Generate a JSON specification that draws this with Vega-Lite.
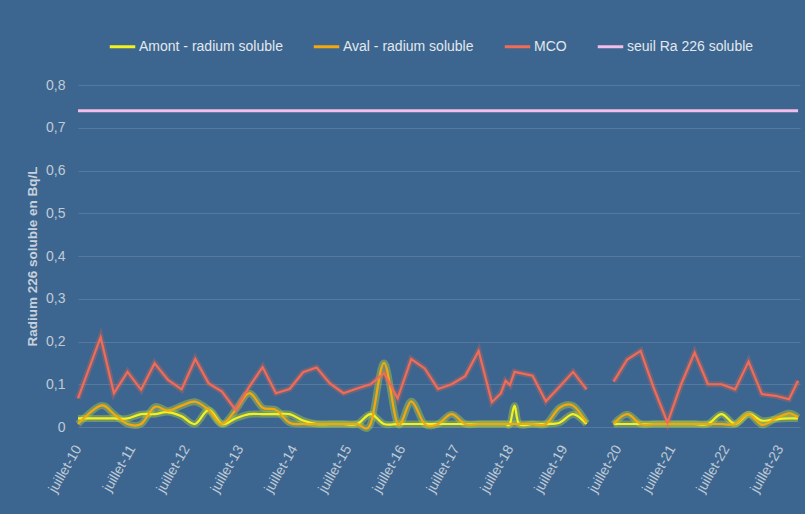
{
 "$schema": "https://vega.github.io/schema/vega-lite/v6.json",
 "width": 722,
 "height": 342,
 "autosize": {"type": "none"},
 "padding": {"left": 78, "top": 85, "right": 5, "bottom": 87},
 "background": "#3c668f",
 "config": {
  "font": "Liberation Sans",
  "view": {"stroke": null},
  "axis": {"labelColor": "#c0cad6", "labelFontSize": 14, "domain": false, "ticks": false}
 },
 "data": {"values": [
  {"d":"2010-07-01","s":"MCO","v":0.067},{"d":"2010-12-01","s":"MCO","v":0.21},{"d":"2011-03-01","s":"MCO","v":0.079},{"d":"2011-06-01","s":"MCO","v":0.129},
  {"d":"2011-09-01","s":"MCO","v":0.087},{"d":"2011-12-01","s":"MCO","v":0.149},{"d":"2012-03-01","s":"MCO","v":0.11},{"d":"2012-06-01","s":"MCO","v":0.088},
  {"d":"2012-09-01","s":"MCO","v":0.159},{"d":"2012-12-01","s":"MCO","v":0.102},{"d":"2013-03-01","s":"MCO","v":0.083},{"d":"2013-06-01","s":"MCO","v":0.04},
  {"d":"2013-09-01","s":"MCO","v":0.094},{"d":"2013-12-01","s":"MCO","v":0.14},{"d":"2014-03-01","s":"MCO","v":0.079},{"d":"2014-06-01","s":"MCO","v":0.089},
  {"d":"2014-09-01","s":"MCO","v":0.128},{"d":"2014-12-01","s":"MCO","v":0.139},{"d":"2015-03-01","s":"MCO","v":0.102},{"d":"2015-06-01","s":"MCO","v":0.079},
  {"d":"2015-09-01","s":"MCO","v":0.09},{"d":"2015-12-01","s":"MCO","v":0.1},{"d":"2016-03-01","s":"MCO","v":0.126},{"d":"2016-06-01","s":"MCO","v":0.067},
  {"d":"2016-09-01","s":"MCO","v":0.159},{"d":"2016-12-01","s":"MCO","v":0.137},{"d":"2017-03-01","s":"MCO","v":0.089},{"d":"2017-06-01","s":"MCO","v":0.1},
  {"d":"2017-09-01","s":"MCO","v":0.119},{"d":"2017-12-01","s":"MCO","v":0.178},{"d":"2018-03-01","s":"MCO","v":0.058},{"d":"2018-05-01","s":"MCO","v":0.079},
  {"d":"2018-06-01","s":"MCO","v":0.108},{"d":"2018-07-01","s":"MCO","v":0.098},{"d":"2018-08-01","s":"MCO","v":0.129},{"d":"2018-12-01","s":"MCO","v":0.12},
  {"d":"2019-03-01","s":"MCO","v":0.06},{"d":"2019-06-01","s":"MCO","v":0.094},{"d":"2019-09-01","s":"MCO","v":0.129},{"d":"2019-12-01","s":"MCO","v":0.088},
  {"d":"2020-03-01","s":"MCO","v":null},
  {"d":"2020-06-01","s":"MCO","v":0.106},{"d":"2020-09-01","s":"MCO","v":0.158},{"d":"2020-12-01","s":"MCO","v":0.178},{"d":"2021-03-01","s":"MCO","v":0.09},
  {"d":"2021-06-01","s":"MCO","v":0.01},{"d":"2021-09-01","s":"MCO","v":0.1},{"d":"2021-12-01","s":"MCO","v":0.174},{"d":"2022-03-01","s":"MCO","v":0.1},
  {"d":"2022-06-01","s":"MCO","v":0.1},{"d":"2022-09-01","s":"MCO","v":0.088},{"d":"2022-12-01","s":"MCO","v":0.153},{"d":"2023-03-01","s":"MCO","v":0.077},
  {"d":"2023-06-01","s":"MCO","v":0.073},{"d":"2023-09-01","s":"MCO","v":0.065},{"d":"2023-11-01","s":"MCO","v":0.108},

  {"d":"2010-07-01","s":"Amont - radium soluble","v":0.02},{"d":"2010-12-01","s":"Amont - radium soluble","v":0.02},{"d":"2011-03-01","s":"Amont - radium soluble","v":0.02},
  {"d":"2011-06-01","s":"Amont - radium soluble","v":0.02},{"d":"2011-09-01","s":"Amont - radium soluble","v":0.03},{"d":"2011-12-01","s":"Amont - radium soluble","v":0.03},
  {"d":"2012-03-01","s":"Amont - radium soluble","v":0.035},{"d":"2012-06-01","s":"Amont - radium soluble","v":0.025},{"d":"2012-09-01","s":"Amont - radium soluble","v":0.007},
  {"d":"2012-12-01","s":"Amont - radium soluble","v":0.04},{"d":"2013-03-01","s":"Amont - radium soluble","v":0.007},{"d":"2013-06-01","s":"Amont - radium soluble","v":0.02},
  {"d":"2013-09-01","s":"Amont - radium soluble","v":0.03},{"d":"2013-12-01","s":"Amont - radium soluble","v":0.03},{"d":"2014-03-01","s":"Amont - radium soluble","v":0.03},
  {"d":"2014-06-01","s":"Amont - radium soluble","v":0.03},{"d":"2014-09-01","s":"Amont - radium soluble","v":0.015},{"d":"2014-12-01","s":"Amont - radium soluble","v":0.007},
  {"d":"2015-03-01","s":"Amont - radium soluble","v":0.007},{"d":"2015-06-01","s":"Amont - radium soluble","v":0.007},{"d":"2015-09-01","s":"Amont - radium soluble","v":0.007},
  {"d":"2015-12-01","s":"Amont - radium soluble","v":0.03},{"d":"2016-03-01","s":"Amont - radium soluble","v":0.007},{"d":"2016-06-01","s":"Amont - radium soluble","v":0.007},
  {"d":"2016-09-01","s":"Amont - radium soluble","v":0.007},{"d":"2016-12-01","s":"Amont - radium soluble","v":0.007},{"d":"2017-03-01","s":"Amont - radium soluble","v":0.007},
  {"d":"2017-06-01","s":"Amont - radium soluble","v":0.007},{"d":"2017-09-01","s":"Amont - radium soluble","v":0.007},{"d":"2017-12-01","s":"Amont - radium soluble","v":0.007},
  {"d":"2018-03-01","s":"Amont - radium soluble","v":0.007},{"d":"2018-05-01","s":"Amont - radium soluble","v":0.007},{"d":"2018-06-01","s":"Amont - radium soluble","v":0.007},
  {"d":"2018-07-01","s":"Amont - radium soluble","v":0.007},{"d":"2018-08-01","s":"Amont - radium soluble","v":0.05},{"d":"2018-09-01","s":"Amont - radium soluble","v":0.007},
  {"d":"2018-12-01","s":"Amont - radium soluble","v":0.007},{"d":"2019-03-01","s":"Amont - radium soluble","v":0.007},{"d":"2019-06-01","s":"Amont - radium soluble","v":0.01},
  {"d":"2019-09-01","s":"Amont - radium soluble","v":0.03},{"d":"2019-12-01","s":"Amont - radium soluble","v":0.007},
  {"d":"2020-03-01","s":"Amont - radium soluble","v":null},
  {"d":"2020-06-01","s":"Amont - radium soluble","v":0.007},{"d":"2020-09-01","s":"Amont - radium soluble","v":0.007},{"d":"2020-12-01","s":"Amont - radium soluble","v":0.007},
  {"d":"2021-03-01","s":"Amont - radium soluble","v":0.007},{"d":"2021-06-01","s":"Amont - radium soluble","v":0.007},{"d":"2021-09-01","s":"Amont - radium soluble","v":0.007},
  {"d":"2021-12-01","s":"Amont - radium soluble","v":0.007},{"d":"2022-03-01","s":"Amont - radium soluble","v":0.007},{"d":"2022-06-01","s":"Amont - radium soluble","v":0.03},
  {"d":"2022-09-01","s":"Amont - radium soluble","v":0.007},{"d":"2022-12-01","s":"Amont - radium soluble","v":0.03},{"d":"2023-03-01","s":"Amont - radium soluble","v":0.015},
  {"d":"2023-06-01","s":"Amont - radium soluble","v":0.018},{"d":"2023-09-01","s":"Amont - radium soluble","v":0.02},{"d":"2023-11-01","s":"Amont - radium soluble","v":0.02},

  {"d":"2010-07-01","s":"Aval - radium soluble","v":0.007},{"d":"2010-12-01","s":"Aval - radium soluble","v":0.05},{"d":"2011-03-01","s":"Aval - radium soluble","v":0.03},
  {"d":"2011-06-01","s":"Aval - radium soluble","v":0.007},{"d":"2011-09-01","s":"Aval - radium soluble","v":0.007},{"d":"2011-12-01","s":"Aval - radium soluble","v":0.047},
  {"d":"2012-03-01","s":"Aval - radium soluble","v":0.038},{"d":"2012-06-01","s":"Aval - radium soluble","v":0.05},{"d":"2012-09-01","s":"Aval - radium soluble","v":0.059},
  {"d":"2012-12-01","s":"Aval - radium soluble","v":0.04},{"d":"2013-03-01","s":"Aval - radium soluble","v":0.007},{"d":"2013-06-01","s":"Aval - radium soluble","v":0.04},
  {"d":"2013-09-01","s":"Aval - radium soluble","v":0.079},{"d":"2013-12-01","s":"Aval - radium soluble","v":0.045},{"d":"2014-03-01","s":"Aval - radium soluble","v":0.04},
  {"d":"2014-06-01","s":"Aval - radium soluble","v":0.01},{"d":"2014-09-01","s":"Aval - radium soluble","v":0.007},{"d":"2014-12-01","s":"Aval - radium soluble","v":0.007},
  {"d":"2015-03-01","s":"Aval - radium soluble","v":0.007},{"d":"2015-06-01","s":"Aval - radium soluble","v":0.007},{"d":"2015-09-01","s":"Aval - radium soluble","v":0.007},
  {"d":"2015-12-01","s":"Aval - radium soluble","v":0.007},{"d":"2016-03-01","s":"Aval - radium soluble","v":0.15},{"d":"2016-06-01","s":"Aval - radium soluble","v":0.007},
  {"d":"2016-09-01","s":"Aval - radium soluble","v":0.06},{"d":"2016-12-01","s":"Aval - radium soluble","v":0.007},{"d":"2017-03-01","s":"Aval - radium soluble","v":0.007},
  {"d":"2017-06-01","s":"Aval - radium soluble","v":0.03},{"d":"2017-09-01","s":"Aval - radium soluble","v":0.007},{"d":"2017-12-01","s":"Aval - radium soluble","v":0.007},
  {"d":"2018-03-01","s":"Aval - radium soluble","v":0.007},{"d":"2018-05-01","s":"Aval - radium soluble","v":0.007},{"d":"2018-06-01","s":"Aval - radium soluble","v":0.007},
  {"d":"2018-07-01","s":"Aval - radium soluble","v":0.007},{"d":"2018-08-01","s":"Aval - radium soluble","v":0.007},{"d":"2018-12-01","s":"Aval - radium soluble","v":0.007},
  {"d":"2019-03-01","s":"Aval - radium soluble","v":0.007},{"d":"2019-06-01","s":"Aval - radium soluble","v":0.045},{"d":"2019-09-01","s":"Aval - radium soluble","v":0.05},
  {"d":"2019-12-01","s":"Aval - radium soluble","v":0.01},
  {"d":"2020-03-01","s":"Aval - radium soluble","v":null},
  {"d":"2020-06-01","s":"Aval - radium soluble","v":0.007},{"d":"2020-09-01","s":"Aval - radium soluble","v":0.03},{"d":"2020-12-01","s":"Aval - radium soluble","v":0.007},
  {"d":"2021-03-01","s":"Aval - radium soluble","v":0.007},{"d":"2021-06-01","s":"Aval - radium soluble","v":0.007},{"d":"2021-09-01","s":"Aval - radium soluble","v":0.007},
  {"d":"2021-12-01","s":"Aval - radium soluble","v":0.007},{"d":"2022-03-01","s":"Aval - radium soluble","v":0.007},{"d":"2022-06-01","s":"Aval - radium soluble","v":0.007},
  {"d":"2022-09-01","s":"Aval - radium soluble","v":0.007},{"d":"2022-12-01","s":"Aval - radium soluble","v":0.03},{"d":"2023-03-01","s":"Aval - radium soluble","v":0.005},
  {"d":"2023-06-01","s":"Aval - radium soluble","v":0.02},{"d":"2023-09-01","s":"Aval - radium soluble","v":0.032},{"d":"2023-11-01","s":"Aval - radium soluble","v":0.022},

  {"d":"2010-07-01","s":"seuil Ra 226 soluble","v":0.74},{"d":"2023-11-01","s":"seuil Ra 226 soluble","v":0.74}
 ]},
 "encoding": {
  "x": {
   "field": "d", "type": "temporal",
   "scale": {"type": "utc", "domain": [{"year": 2010, "month": 7, "date": 1, "utc": true}, {"year": 2023, "month": 11, "date": 14, "utc": true}]},
   "axis": {
    "title": null, "grid": false, "labelAngle": -60, "labelPadding": 19,
    "values": [
     {"year": 2010, "month": 7, "date": 1, "utc": true},{"year": 2011, "month": 7, "date": 1, "utc": true},
     {"year": 2012, "month": 7, "date": 1, "utc": true},{"year": 2013, "month": 7, "date": 1, "utc": true},
     {"year": 2014, "month": 7, "date": 1, "utc": true},{"year": 2015, "month": 7, "date": 1, "utc": true},
     {"year": 2016, "month": 7, "date": 1, "utc": true},{"year": 2017, "month": 7, "date": 1, "utc": true},
     {"year": 2018, "month": 7, "date": 1, "utc": true},{"year": 2019, "month": 7, "date": 1, "utc": true},
     {"year": 2020, "month": 7, "date": 1, "utc": true},{"year": 2021, "month": 7, "date": 1, "utc": true},
     {"year": 2022, "month": 7, "date": 1, "utc": true},{"year": 2023, "month": 7, "date": 1, "utc": true}
    ],
    "labelExpr": "'juillet-' + utcFormat(datum.value, '%y')"
   }
  },
  "y": {
   "field": "v", "type": "quantitative",
   "scale": {"domain": [0, 0.8], "nice": false},
   "axis": {
    "title": "Radium 226 soluble en Bq/L", "titleColor": "#c8d1db", "titleFontSize": 13.5, "titleFontWeight": "bold", "titlePadding": 6,
    "values": [0, 0.1, 0.2, 0.3, 0.4, 0.5, 0.6, 0.7, 0.8],
    "labelExpr": "replace(format(datum.value, '.1~f'), '.', ',')",
    "labelPadding": 13, "grid": true, "gridColor": "#56799f", "gridWidth": 1
   }
  }
 },
 "layer": [
  {
   "transform": [{"filter": "datum.s == 'Amont - radium soluble' || datum.s == 'Aval - radium soluble'"}],
   "mark": {"type": "line", "interpolate": "cardinal", "strokeWidth": 7, "opacity": 0.4, "invalid": "break-paths-filter-domains"},
   "encoding": {"stroke": {"field": "s", "type": "nominal", "legend": null,
     "scale": {"domain": ["Amont - radium soluble", "Aval - radium soluble", "MCO"], "range": ["#bcd83a", "#bcd83a", "#e8654f"]}}}
  },
  {
   "transform": [{"filter": "datum.s == 'MCO'"}],
   "mark": {"type": "line", "strokeWidth": 6, "opacity": 0.3, "invalid": "break-paths-filter-domains"},
   "encoding": {"stroke": {"field": "s", "type": "nominal", "legend": null}}
  },
  {
   "transform": [{"filter": "datum.s == 'Amont - radium soluble' || datum.s == 'Aval - radium soluble'"}],
   "mark": {"type": "line", "interpolate": "cardinal", "strokeWidth": 2.2, "invalid": "break-paths-filter-domains"},
   "encoding": {"color": {"field": "s", "type": "nominal"}}
  },
  {
   "transform": [{"filter": "datum.s == 'MCO'"}],
   "mark": {"type": "line", "strokeWidth": 2.2, "invalid": "break-paths-filter-domains"},
   "encoding": {"color": {"field": "s", "type": "nominal"}}
  },
  {
   "transform": [{"filter": "datum.s == 'seuil Ra 226 soluble'"}],
   "mark": {"type": "line", "strokeWidth": 3},
   "encoding": {"color": {"field": "s", "type": "nominal",
     "scale": {"domain": ["Amont - radium soluble", "Aval - radium soluble", "MCO", "seuil Ra 226 soluble"], "range": ["#f4f21e", "#f4a80e", "#f26b57", "#f3bdea"]},
     "legend": {"orient": "none", "legendX": 30, "legendY": -53, "direction": "horizontal", "title": null,
       "symbolType": "stroke", "symbolStrokeWidth": 3, "symbolSize": 650, "labelColor": "#e3e8ee", "labelFontSize": 14,
       "columnPadding": 24, "labelOffset": 2}}}
  }
 ]
}
